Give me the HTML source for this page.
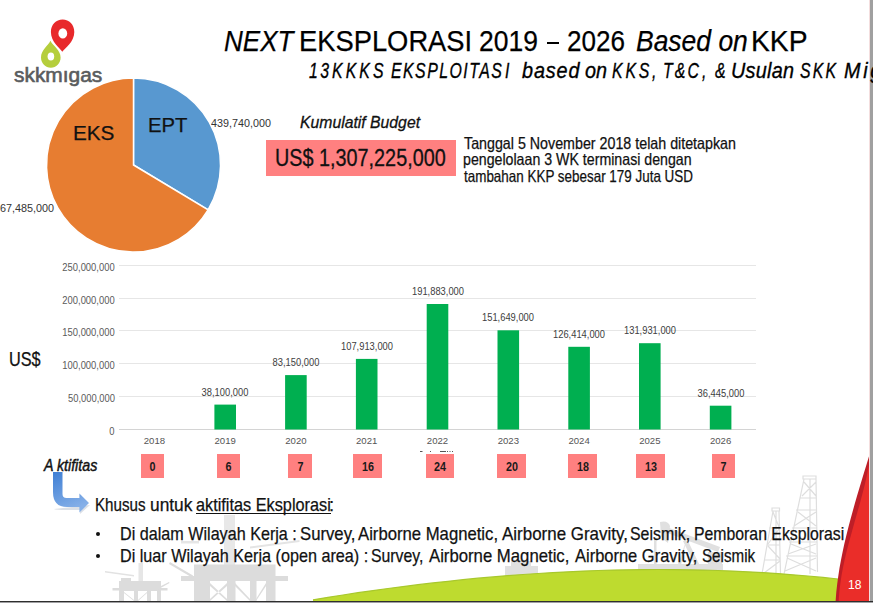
<!DOCTYPE html>
<html><head><meta charset="utf-8">
<style>
html,body{margin:0;padding:0;}
body{width:873px;height:603px;position:relative;overflow:hidden;background:#fff;font-family:"Liberation Sans",sans-serif;color:#111;}
.a{position:absolute;white-space:nowrap;}
.yl{position:absolute;right:758px;font-size:10px;color:#5a5a5a;line-height:10px;transform:scaleX(0.94);transform-origin:100% 0;}
.vl{position:absolute;font-size:10.5px;color:#404040;line-height:10px;width:80px;text-align:center;transform:scaleX(0.89);}
.xl{position:absolute;font-size:9.6px;color:#555;line-height:10px;width:60px;text-align:center;top:436px;}
.bx{position:absolute;top:454px;height:24px;background:#FF8080;font-size:12.5px;font-weight:bold;color:#1a1a1a;text-align:center;line-height:27px;overflow:hidden;}
.bx span{display:inline-block;transform:scaleX(0.86);}
</style></head>
<body>
<svg class="a" style="left:0;top:0" width="873" height="603" viewBox="0 0 873 603">
  <g fill="#dcdcdc">
    <rect x="138.5" y="563" width="4.5" height="18" fill="#e6e6e6"/>
    <path d="M105 571 L134 575 L134 576.5 L105 572.5Z" fill="#e2e2e2"/>
    <rect x="121" y="578" width="10" height="3"/>
    <rect x="119" y="581" width="42" height="10"/>
    <rect x="112.5" y="588" width="55" height="2.5"/>
    <rect x="119" y="591" width="5" height="10"/><rect x="134" y="591" width="4" height="10"/><rect x="147" y="591" width="4" height="10"/><rect x="157" y="591" width="4" height="10"/>
    <path d="M124 592 L134 600 L134 601 L124 593Z M138 600 L147 592 L147 593 L138 601Z"/>
    <path d="M157 588 L169 582 L169.5 583 L158 589.5Z"/>
    <rect x="224" y="515" width="11" height="50" fill="#e8e8e8"/>
    <path d="M181 541 L199 541 L199 543.5 L181 543.5Z" fill="#e6e6e6"/>
    <path d="M250 546.5 L299.5 540 L299.5 542 L250 548.5Z" fill="#e4e4e4"/>
    <rect x="194" y="564.5" width="81.5" height="13.5"/>
    <rect x="181" y="576" width="107" height="5"/>
    <path d="M170 562 L193 575.5 L192 577.5 L169 564Z"/>
    <rect x="194" y="578" width="16" height="23"/><rect x="227" y="578" width="8.5" height="23"/><rect x="250" y="578" width="6.5" height="23"/><rect x="266" y="578" width="9.5" height="23"/>
    <path d="M210 583 L227 599 L227 601 L210 586Z M227 583 L210 599 L210 601 L227 586Z M235 583 L250 599 L250 601 L235 586Z M256 599 L266 583 L266 586 L256 601Z"/>
  </g>
  <g fill="#e0e0e0">
    <rect x="505" y="566" width="33" height="10"/><rect x="511" y="561" width="20" height="5"/>
    <path d="M660 522 Q668 520 670 526 L668 543 Q663 540 661 536Z"/>
    <path d="M664 526 L720 547 L718 552 L662 531Z"/>
    <path d="M683 541 L688 541 L702 570 L697 570 Z M686 541 L680 570 L676 570 Z"/>
    <rect x="638" y="564" width="85" height="6"/>
    <rect x="654" y="538" width="2.5" height="26"/>
    <rect x="708" y="552" width="14" height="12"/>
  </g>
  <g fill="none" stroke="#dedede" stroke-width="1.2">
    <path d="M803 476 L816 476 L816 479 L803 479Z M804 479 L784 574 M816 479 L817.5 572 M810 479 L810 574 M800 498 L816 498 M796 510 L816 510 M792 528 L817 528 M789 542 L817 542 M786 556 L817 556 M804 482 L816 496 M816 482 L802 496 M798 512 L816 526 M816 512 L794 526 M791 544 L816 554 M816 544 L788 554 M787 558 L816 571 M816 558 L785 571"/>
    <path d="M772 508 L779.5 508 L779.5 511 L772 511Z M773 511 L762 574 M779 511 L780.5 574 M776 511 L776 574 M769 528 L780 528 M767 545 L780 545 M764 560 L780.5 560 M773 512 L779 527 M779 529 L768 544 M768 546 L780 559 M780 561 L764 573"/>
  </g>
  <path d="M313 599.8 L328 597.3 L343 595.0 L358 592.7 L373 590.6 L388 588.5 L403 586.6 L418 584.7 L433 582.9 L448 581.3 L463 579.7 L478 578.2 L493 576.9 L508 575.6 L523 574.5 L538 573.5 L553 572.6 L568 571.8 L583 571.1 L598 570.5 L613 570.1 L628 569.8 L643 569.6 L658 569.5 L673 569.6 L688 569.8 L703 570.1 L718 570.5 L733 571.1 L748 571.8 L763 572.6 L778 573.6 L793 574.8 L808 576.0 L823 577.4 L838 579.0 L845 580 L845 601 L313 601 Z" fill="#BEDB2F"/>
  <path d="M313 599.8 L328 597.3 L343 595.0 L358 592.7 L373 590.6 L388 588.5 L403 586.6 L418 584.7 L433 582.9 L448 581.3 L463 579.7 L478 578.2 L493 576.9 L508 575.6 L523 574.5 L538 573.5 L553 572.6 L568 571.8 L583 571.1 L598 570.5 L613 570.1 L628 569.8 L643 569.6 L658 569.5 L673 569.6 L688 569.8 L703 570.1 L718 570.5 L733 571.1 L748 571.8 L763 572.6 L778 573.6 L793 574.8 L808 576.0 L823 577.4 L838 579.0 L845 580" fill="none" stroke="#A8C82C" stroke-width="1.2"/>
  <path d="M869.1 456 L866.7 464 L864.2 472 L861.8 480 L859.4 488 L857.0 496 L854.7 504 L852.5 512 L850.3 520 L848.2 528 L846.2 536 L844.3 544 L842.6 552 L841.0 560 L839.5 568 L838.3 576 L837.2 584 L836.3 592 L835.7 600 L835.6 601 L870 601 L870 456 Z" fill="#BE1E27"/>
  <path d="M869.4 463 L867.8 471 L866.1 479 L864.2 487 L862.1 495 L860.0 503 L857.7 511 L855.4 519 L853.2 527 L851.0 535 L848.8 543 L846.7 551 L844.8 559 L843.1 567 L841.6 575 L840.4 583 L839.4 591 L838.8 599 L838.7 601 L870 601 L870 463 Z" fill="#EA2D29"/>
  <rect x="869" y="0" width="1" height="603" fill="#f4dede"/>
  <rect x="870" y="0" width="3" height="603" fill="#a0a0a0"/>
  <rect x="0" y="601" width="873" height="1" fill="#2e2e2e"/>
  <rect x="0" y="602" width="873" height="1" fill="#a0a0a3"/>
</svg>
<svg class="a" style="left:0;top:0" width="120" height="90" viewBox="0 0 120 90">
  <path d="M50.4 40.8 C 48 46, 41 50, 41 57.5 C 41 63.5, 45.5 67.7, 50.9 67.7 C 56.2 67.7, 60.6 63.5, 60.6 57.5 C 60.6 50, 53 46, 50.4 40.8 Z" fill="#B5CE3C"/>
  <ellipse cx="50.9" cy="56.5" rx="3.3" ry="4" fill="#fff"/>
  <path d="M62.3 51.8 C 60 48, 50.9 42, 50.9 32 C 50.9 24.5, 56 19.5, 62.6 19.5 C 69.2 19.5, 74.3 24.5, 74.3 32 C 74.3 42, 65 48, 62.3 51.8 Z" fill="#E8292B"/>
  <ellipse cx="62.8" cy="33.4" rx="4.4" ry="5.2" fill="#fff"/>
</svg>
<svg class="a" style="left:0;top:0" width="260" height="260" viewBox="0 0 260 260">
  <path d="M133.5 165 L133.5 78 A87 87 0 0 1 208.1 209.8 Z" fill="#5898D0" stroke="#fff" stroke-width="1.5"/>
  <path d="M133.5 165 L208.1 209.8 A87 87 0 1 1 133.5 78 Z" fill="#E77D31" stroke="#fff" stroke-width="1.5"/>
</svg>
<div class="a" style="left:266px;top:140px;width:190px;height:36px;background:#FF8080;"></div>
<div class="a" style="left:547px;top:42px;width:12px;height:2px;background:#000;"></div>
<div class="a" style="left:196px;top:512.6px;width:135px;height:1.5px;background:#111;"></div>
<div class="a" style="left:96.1px;top:531.8px;width:4.2px;height:4.2px;border-radius:50%;background:#111;"></div>
<div class="a" style="left:96.1px;top:553.6px;width:4.2px;height:4.2px;border-radius:50%;background:#111;"></div>
<svg class="a" style="left:0;top:0" width="873" height="603" viewBox="0 0 873 603">
  <g stroke="#e6e6e6" stroke-width="1">
    <line x1="119" y1="265.5" x2="756" y2="265.5"/>
    <line x1="119" y1="298.5" x2="756" y2="298.5"/>
    <line x1="119" y1="330.5" x2="756" y2="330.5"/>
    <line x1="119" y1="363.5" x2="756" y2="363.5"/>
    <line x1="119" y1="396.5" x2="756" y2="396.5"/>
  </g>
  <line x1="119" y1="429.5" x2="756" y2="429.5" stroke="#d4d4d4" stroke-width="1"/>
  <g fill="#00AF50">
    <rect x="214.4" y="404.6" width="21.6" height="24.9"/>
    <rect x="285.1" y="375.1" width="21.6" height="54.4"/>
    <rect x="355.9" y="358.9" width="21.6" height="70.6"/>
    <rect x="426.7" y="304.0" width="21.6" height="125.5"/>
    <rect x="497.5" y="330.3" width="21.6" height="99.2"/>
    <rect x="568.3" y="346.8" width="21.6" height="82.7"/>
    <rect x="639.0" y="343.2" width="21.6" height="86.3"/>
    <rect x="709.8" y="405.7" width="21.6" height="23.8"/>
  </g>
  <g fill="#555"><rect x="420" y="451" width="2.5" height="1"/><rect x="430" y="451" width="1" height="1"/><rect x="440" y="451" width="6" height="1"/><rect x="447" y="451" width="1" height="1"/><rect x="449.5" y="451" width="1" height="1"/><rect x="452" y="451" width="1" height="1"/></g>
</svg>
<div class="yl" style="top:262.7px">250,000,000</div>
<div class="yl" style="top:295.5px">200,000,000</div>
<div class="yl" style="top:328.3px">150,000,000</div>
<div class="yl" style="top:361.1px">100,000,000</div>
<div class="yl" style="top:393.9px">50,000,000</div>
<div class="yl" style="top:426.7px">0</div>
<div class="vl" style="left:185.2px;top:386.6px">38,100,000</div>
<div class="vl" style="left:255.9px;top:357.1px">83,150,000</div>
<div class="vl" style="left:326.7px;top:340.9px">107,913,000</div>
<div class="vl" style="left:397.5px;top:286.0px">191,883,000</div>
<div class="vl" style="left:468.3px;top:312.3px">151,649,000</div>
<div class="vl" style="left:539.1px;top:328.8px">126,414,000</div>
<div class="vl" style="left:609.8px;top:325.2px">131,931,000</div>
<div class="vl" style="left:680.6px;top:387.7px">36,445,000</div>
<div class="xl" style="left:124.4px">2018</div>
<div class="xl" style="left:195.2px">2019</div>
<div class="xl" style="left:265.9px">2020</div>
<div class="xl" style="left:336.7px">2021</div>
<div class="xl" style="left:407.5px">2022</div>
<div class="xl" style="left:478.3px">2023</div>
<div class="xl" style="left:549.1px">2024</div>
<div class="xl" style="left:619.8px">2025</div>
<div class="xl" style="left:690.6px">2026</div>
<div class="bx" style="left:141px;width:23px"><span>0</span></div>
<div class="bx" style="left:217px;width:23px"><span>6</span></div>
<div class="bx" style="left:288px;width:24px"><span>7</span></div>
<div class="bx" style="left:353px;width:29px"><span>16</span></div>
<div class="bx" style="left:426px;width:28px"><span>24</span></div>
<div class="bx" style="left:497px;width:29px"><span>20</span></div>
<div class="bx" style="left:568px;width:29px"><span>18</span></div>
<div class="bx" style="left:636px;width:29px"><span>13</span></div>
<div class="bx" style="left:712px;width:23px"><span>7</span></div>
<svg class="a" style="left:40px;top:465px" width="55" height="55" viewBox="40 465 55 55">
  <defs><linearGradient id="ag" x1="0" y1="0" x2="0.4" y2="1"><stop offset="0" stop-color="#3f7fd4"/><stop offset="1" stop-color="#86b0e8"/></linearGradient></defs>
  <path d="M54 509 Q55 510 67 510 L80 510 L80 514 L90 505 Z" fill="#9aa7b8" opacity="0.35"/>
  <path d="M53 472 L62.5 472 L62.5 494 Q62.5 498 66.5 498 L79.4 498 L79.4 493.5 L89 503 L79.4 512.6 L79.4 507 L67 507 Q53 507 53 492 Z" fill="url(#ag)"/>
</svg>
<div class="a" style="left:223.90px;top:27.00px;line-height:29.0px;color:#000;font-size:29px;font-style:italic;transform:scaleX(0.8987);transform-origin:0 0;-webkit-text-stroke:0.25px #000;">NEXT</div>
<div class="a" style="left:299.22px;top:27.00px;line-height:29.0px;color:#000;font-size:29px;transform:scaleX(0.9425);transform-origin:0 0;-webkit-text-stroke:0.25px #000;">EKSPLORASI</div>
<div class="a" style="left:479.29px;top:27.00px;line-height:29.0px;color:#000;font-size:29px;transform:scaleX(0.9129);transform-origin:0 0;-webkit-text-stroke:0.25px #000;">2019</div>
<div class="a" style="left:567.10px;top:27.00px;line-height:29.0px;color:#000;font-size:29px;transform:scaleX(0.8984);transform-origin:0 0;-webkit-text-stroke:0.25px #000;">2026</div>
<div class="a" style="left:635.59px;top:27.00px;line-height:29.0px;color:#000;font-size:29px;font-style:italic;transform:scaleX(0.9125);transform-origin:0 0;-webkit-text-stroke:0.25px #000;">Based on</div>
<div class="a" style="left:750.95px;top:27.00px;line-height:29.0px;color:#000;font-size:29px;transform:scaleX(0.9745);transform-origin:0 0;-webkit-text-stroke:0.25px #000;">KKP</div>
<div class="a" style="left:308.88px;top:60.00px;line-height:22.0px;color:#000;font-size:22px;font-style:italic;transform:scaleX(0.7200);transform-origin:0 0;letter-spacing:3.39px;-webkit-text-stroke:0.35px #000;">13</div>
<div class="a" style="left:332.48px;top:60.00px;line-height:22.0px;color:#000;font-size:22px;font-style:italic;transform:scaleX(0.7200);transform-origin:0 0;letter-spacing:4.33px;-webkit-text-stroke:0.35px #000;">KKKS</div>
<div class="a" style="left:391.18px;top:60.00px;line-height:22.0px;color:#000;font-size:22px;font-style:italic;transform:scaleX(0.7200);transform-origin:0 0;letter-spacing:2.07px;-webkit-text-stroke:0.35px #000;">EKSPLOITAS</div>
<div class="a" style="left:505.28px;top:60.00px;line-height:22.0px;color:#000;font-size:22px;font-style:italic;transform:scaleX(0.7200);transform-origin:0 0;-webkit-text-stroke:0.35px #000;">I</div>
<div class="a" style="left:522.00px;top:60.00px;line-height:22.0px;color:#000;font-size:22px;font-style:italic;transform:scaleX(0.9000);transform-origin:0 0;letter-spacing:1.00px;-webkit-text-stroke:0.35px #000;">based</div>
<div class="a" style="left:585.30px;top:60.00px;line-height:22.0px;color:#000;font-size:22px;font-style:italic;transform:scaleX(0.9000);transform-origin:0 0;letter-spacing:-0.11px;-webkit-text-stroke:0.35px #000;">on</div>
<div class="a" style="left:611.88px;top:60.00px;line-height:22.0px;color:#000;font-size:22px;font-style:italic;transform:scaleX(0.7200);transform-origin:0 0;letter-spacing:3.92px;-webkit-text-stroke:0.35px #000;">KKS</div>
<div class="a" style="left:651.78px;top:60.00px;line-height:22.0px;color:#000;font-size:22px;font-style:italic;transform:scaleX(0.7200);transform-origin:0 0;-webkit-text-stroke:0.35px #000;">,</div>
<div class="a" style="left:662.56px;top:60.00px;line-height:22.0px;color:#000;font-size:22px;font-style:italic;transform:scaleX(0.7200);transform-origin:0 0;letter-spacing:3.03px;-webkit-text-stroke:0.35px #000;">T&amp;C</div>
<div class="a" style="left:702.28px;top:60.00px;line-height:22.0px;color:#000;font-size:22px;font-style:italic;transform:scaleX(0.7200);transform-origin:0 0;-webkit-text-stroke:0.35px #000;">,</div>
<div class="a" style="left:714.70px;top:60.00px;line-height:22.0px;color:#000;font-size:22px;font-style:italic;transform:scaleX(0.7200);transform-origin:0 0;-webkit-text-stroke:0.35px #000;">&amp;</div>
<div class="a" style="left:731.20px;top:60.00px;line-height:22.0px;color:#000;font-size:22px;font-style:italic;transform:scaleX(0.9000);transform-origin:0 0;letter-spacing:0.29px;-webkit-text-stroke:0.35px #000;">Usulan</div>
<div class="a" style="left:799.88px;top:60.00px;line-height:22.0px;color:#000;font-size:22px;font-style:italic;transform:scaleX(0.7200);transform-origin:0 0;letter-spacing:3.08px;-webkit-text-stroke:0.35px #000;">SKK</div>
<div class="a" style="left:844.40px;top:60.00px;line-height:22.0px;color:#000;font-size:22px;font-style:italic;transform:scaleX(0.9000);transform-origin:0 0;letter-spacing:3.00px;-webkit-text-stroke:0.35px #000;">Migas</div>
<div class="a" style="left:13.75px;top:64.80px;line-height:20.0px;color:#5a5c5e;font-size:20px;transform:scaleX(1.0458);transform-origin:0 0;-webkit-text-stroke:0.6px #5a5c5e;">skkmıgas</div>
<div class="a" style="left:73.03px;top:122.50px;line-height:20.0px;color:#111;font-size:20px;transform:scaleX(1.0351);transform-origin:0 0;-webkit-text-stroke:0.25px #111;">EKS</div>
<div class="a" style="left:148.17px;top:115.20px;line-height:20.0px;color:#111;font-size:20px;transform:scaleX(1.0135);transform-origin:0 0;-webkit-text-stroke:0.25px #111;">EPT</div>
<div class="a" style="left:210.70px;top:118.20px;line-height:11.0px;color:#333;font-size:11px;transform:scaleX(0.9787);transform-origin:0 0;">439,740,000</div>
<div class="a" style="left:-6.30px;top:203.20px;line-height:11.0px;color:#333;font-size:11px;transform:scaleX(0.9820);transform-origin:0 0;">867,485,000</div>
<div class="a" style="left:299.74px;top:114.10px;line-height:16.5px;color:#111;font-size:16.5px;font-style:italic;transform:scaleX(0.9552);transform-origin:0 0;-webkit-text-stroke:0.3px #111;">Kumulatif Budget</div>
<div class="a" style="left:275.28px;top:146.70px;line-height:23.0px;color:#111;font-size:23px;transform:scaleX(0.8612);transform-origin:0 0;-webkit-text-stroke:0.3px #111;">US$ 1,307,225,000</div>
<div class="a" style="left:463.60px;top:134.60px;line-height:16.5px;color:#111;font-size:16.5px;transform:scaleX(0.8643);transform-origin:0 0;-webkit-text-stroke:0.25px #111;">Tanggal 5 November 2018 telah ditetapkan</div>
<div class="a" style="left:462.74px;top:151.20px;line-height:16.5px;color:#111;font-size:16.5px;transform:scaleX(0.8595);transform-origin:0 0;-webkit-text-stroke:0.25px #111;">pengelolaan 3 WK terminasi dengan</div>
<div class="a" style="left:463.60px;top:167.90px;line-height:16.5px;color:#111;font-size:16.5px;transform:scaleX(0.8139);transform-origin:0 0;-webkit-text-stroke:0.25px #111;">tambahan KKP sebesar 179 Juta USD</div>
<div class="a" style="left:9.46px;top:349.50px;line-height:19.5px;color:#111;font-size:19.5px;transform:scaleX(0.8351);transform-origin:0 0;-webkit-text-stroke:0.25px #111;">US$</div>
<div class="a" style="left:43.99px;top:457.90px;line-height:16.0px;color:#111;font-size:16px;font-style:italic;transform:scaleX(0.8900);transform-origin:0 0;-webkit-text-stroke:0.45px #111;">A ktifitas</div>
<div class="a" style="left:95.08px;top:495.50px;line-height:18.5px;color:#111;font-size:18.5px;transform:scaleX(0.8183);transform-origin:0 0;-webkit-text-stroke:0.25px #111;">Khusus</div>
<div class="a" style="left:149.56px;top:495.50px;line-height:18.5px;color:#111;font-size:18.5px;transform:scaleX(0.9364);transform-origin:0 0;-webkit-text-stroke:0.25px #111;">untuk</div>
<div class="a" style="left:195.52px;top:495.50px;line-height:18.5px;color:#111;font-size:18.5px;transform:scaleX(0.8801);transform-origin:0 0;-webkit-text-stroke:0.25px #111;">aktifitas Eksplorasi</div>
<div class="a" style="left:329.10px;top:495.50px;line-height:18.5px;color:#111;font-size:18.5px;-webkit-text-stroke:0.25px #111;">:</div>
<div class="a" style="left:120.33px;top:524.70px;line-height:18.5px;color:#111;font-size:18.5px;transform:scaleX(0.8730);transform-origin:0 0;-webkit-text-stroke:0.25px #111;">Di dalam Wilayah Kerja :</div>
<div class="a" style="left:300.00px;top:524.70px;line-height:18.5px;color:#111;font-size:18.5px;transform:scaleX(0.9034);transform-origin:0 0;-webkit-text-stroke:0.25px #111;">Survey,</div>
<div class="a" style="left:357.60px;top:524.70px;line-height:18.5px;color:#111;font-size:18.5px;transform:scaleX(0.9019);transform-origin:0 0;-webkit-text-stroke:0.25px #111;">Airborne Magnetic,</div>
<div class="a" style="left:501.60px;top:524.70px;line-height:18.5px;color:#111;font-size:18.5px;transform:scaleX(0.9162);transform-origin:0 0;-webkit-text-stroke:0.25px #111;">Airborne Gravity,</div>
<div class="a" style="left:629.54px;top:524.70px;line-height:18.5px;color:#111;font-size:18.5px;transform:scaleX(0.8597);transform-origin:0 0;-webkit-text-stroke:0.25px #111;">Seismik,</div>
<div class="a" style="left:694.05px;top:524.70px;line-height:18.5px;color:#111;font-size:18.5px;transform:scaleX(0.8546);transform-origin:0 0;-webkit-text-stroke:0.25px #111;">Pemboran Eksplorasi</div>
<div class="a" style="left:120.33px;top:546.80px;line-height:18.5px;color:#111;font-size:18.5px;transform:scaleX(0.8747);transform-origin:0 0;-webkit-text-stroke:0.25px #111;">Di luar Wilayah Kerja (open area) :</div>
<div class="a" style="left:371.35px;top:546.80px;line-height:18.5px;color:#111;font-size:18.5px;transform:scaleX(0.8542);transform-origin:0 0;-webkit-text-stroke:0.25px #111;">Survey,</div>
<div class="a" style="left:428.60px;top:546.80px;line-height:18.5px;color:#111;font-size:18.5px;transform:scaleX(0.9039);transform-origin:0 0;-webkit-text-stroke:0.25px #111;">Airborne Magnetic,</div>
<div class="a" style="left:574.60px;top:546.80px;line-height:18.5px;color:#111;font-size:18.5px;transform:scaleX(0.8904);transform-origin:0 0;-webkit-text-stroke:0.25px #111;">Airborne Gravity,</div>
<div class="a" style="left:701.78px;top:546.80px;line-height:18.5px;color:#111;font-size:18.5px;transform:scaleX(0.8203);transform-origin:0 0;-webkit-text-stroke:0.25px #111;">Seismik</div>
<div class="a" style="left:848.49px;top:579.20px;line-height:12.0px;color:#fff;font-size:12px;transform:scaleX(1.0083);transform-origin:0 0;">18</div>
</body></html>
